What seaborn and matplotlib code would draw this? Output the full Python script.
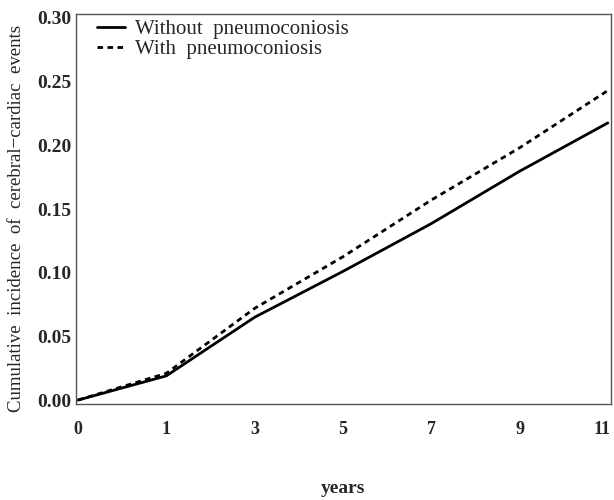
import matplotlib
matplotlib.use("Agg")
import matplotlib.pyplot as plt
import matplotlib.transforms as mtransforms
import seaborn as sns
import pandas as pd

# tick labels (equally spaced positions on the axis)
year_labels = ["0", "1", "3", "5", "7", "9", "11"]
positions = [0, 1, 2, 3, 4, 5, 6]

without_pneumo = [0.000, 0.019, 0.065, 0.101, 0.1385, 0.1796, 0.2176]
with_pneumo = [0.000, 0.021, 0.072, 0.1125, 0.157, 0.198, 0.243]

series_names = ["Without  pneumoconiosis", "With  pneumoconiosis"]

df = pd.concat([
    pd.DataFrame({"pos": positions, "value": without_pneumo, "group": series_names[0]}),
    pd.DataFrame({"pos": positions, "value": with_pneumo, "group": series_names[1]}),
])

sns.set_style("white")
plt.rcParams["font.family"] = ["Liberation Serif", "DejaVu Serif"]

fig = plt.figure(figsize=(6.14, 5.0), dpi=100)
ax = fig.add_axes([0.1238, 0.192, 0.871, 0.780])

sns.lineplot(data=df[df.group == series_names[0]], x="pos", y="value", ax=ax,
             color="black", linewidth=2.0, label=series_names[0])
sns.lineplot(data=df[df.group == series_names[1]], x="pos", y="value", ax=ax,
             color="black", linewidth=2.0, linestyle=(0, (2.0, 1.6)), label=series_names[1])

ax.set_xlim(-0.023, 6.034)
ax.set_ylim(-0.0031, 0.3031)
ax.set_xticks(positions)
ax.set_xticklabels(year_labels, fontsize=13, fontweight="bold")
yt = [0.00, 0.05, 0.10, 0.15, 0.20, 0.25, 0.30]
ax.set_yticks(yt)
ax.set_yticklabels([f"{v:.2f}" for v in yt], fontsize=14, fontweight="bold")
ax.tick_params(axis="both", direction="out", width=1, color="#444444")
ax.tick_params(axis="x", length=3.5, pad=9)
ax.tick_params(axis="y", length=3, pad=0.5)

# nudge the last x tick label so it stays inside the figure
last = ax.get_xticklabels()[-1]
last.set_transform(last.get_transform() + mtransforms.ScaledTranslation(-6 / 100, 0, fig.dpi_scale_trans))

for s in ax.spines.values():
    s.set_color("#555555")
    s.set_linewidth(1.0)

ax.set_xlabel("years", fontsize=14, fontweight="bold", labelpad=30)
ax.set_ylabel("Cumulative  incidence  of  cerebral\u2212cardiac  events", fontsize=13.5)
ax.yaxis.set_label_coords(-0.095, 0.475)

leg = ax.legend(loc="upper left", frameon=False, fontsize=15, handlelength=1.35,
                bbox_to_anchor=(0.039, 0.985), borderaxespad=0, borderpad=0,
                labelspacing=0.0, handletextpad=0.5)

fig.savefig("out.png", dpi=100)
